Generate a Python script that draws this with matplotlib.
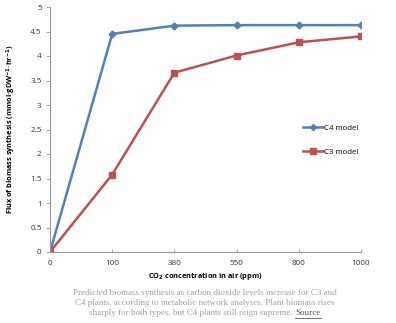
import matplotlib.pyplot as plt

co2_levels = ["0", "100", "380", "550", "800", "1000"]
c4_flux = [0.0, 4.45, 4.62, 4.63, 4.63, 4.63]
c3_flux = [0.0, 1.58, 3.66, 4.01, 4.28, 4.40]
y_ticks = [0, 0.5, 1, 1.5, 2, 2.5, 3, 3.5, 4, 4.5, 5]

caption_lines = [
    "Predicted biomass synthesis as carbon dioxide levels increase for C3 and",
    "C4 plants, according to metabolic network analyses. Plant biomass rises",
    "sharply for both types, but C4 plants still reign supreme.",
]

plt.rcParams['font.family'] = ['Open Sans', 'DejaVu Sans']

fig = plt.figure(figsize=(3.96, 3.23), dpi=100)
ax = fig.add_axes([50 / 396, 71 / 323, 311 / 396, 245 / 323])

x = list(range(len(co2_levels)))
ax.plot(x, c4_flux, color='#4F81BD', lw=1.8, marker='D', ms=3.5, label='C4 model')
ax.plot(x, c3_flux, color='#C0504D', lw=1.8, marker='s', ms=5, label='C3 model')

ax.set_xlim(0, len(co2_levels) - 1)
ax.set_ylim(0, 5)
ax.set_xticks(x)
ax.set_xticklabels(co2_levels)
ax.set_yticks(y_ticks)
ax.set_yticklabels([f"{t:g}" for t in y_ticks])
ax.tick_params(labelsize=5.9, colors='#333333', width=0.6)
ax.tick_params(axis='y', length=3, pad=3, colors='#999999', labelcolor='#333333')
ax.tick_params(axis='x', direction='in', length=2.5, pad=6, colors='#999999', labelcolor='#333333')
for side in ['top', 'right']:
    ax.spines[side].set_visible(False)
for side in ['left', 'bottom']:
    ax.spines[side].set_color('#999999')
    ax.spines[side].set_linewidth(0.8)
ax.patch.set_visible(False)

ax.set_xlabel(r"CO$_\mathbf{2}$ concentration in air (ppm)", fontsize=5.3, fontweight='bold', labelpad=3)
ax.set_ylabel(r"Flux of biomass synthesis (mmol$\cdot$gDW$^{\mathbf{-1}}$$\cdot$hr$^{\mathbf{-1}}$)",
              fontsize=5.3, fontweight='bold', labelpad=9)

ax.legend(loc='center left', bbox_to_anchor=(0.79, 0.457), frameon=False, fontsize=5.7,
          labelspacing=2.1, handlelength=2.5, handletextpad=0.2, markerscale=0.9)

# caption
ys = [293, 303, 313]
cap_font = dict(fontsize=6.5, family='Liberation Serif')
for line, yy in zip(caption_lines[:2], ys[:2]):
    fig.text(205 / 396, 1 - yy / 323, line, ha='center', va='center', color='#a0a0a0', **cap_font)

fig.canvas.draw()
renderer = fig.canvas.get_renderer()
t1 = fig.text(0, 0, caption_lines[2] + " ", color='#a0a0a0', va='center', **cap_font)
t2 = fig.text(0, 0, "Source", color='#555555', va='center', **cap_font)
w1 = t1.get_window_extent(renderer).width
w2 = t2.get_window_extent(renderer).width
start = 205 - (w1 + w2) / 2
yline = 1 - ys[2] / 323
t1.set_position((start / 396, yline))
t2.set_position(((start + w1) / 396, yline))
fig.add_artist(plt.Line2D([(start + w1) / 396, (start + w1 + w2) / 396],
                          [yline - 4.5 / 323, yline - 4.5 / 323], color='#555555', lw=0.6))

fig.savefig('out.png', dpi=100)
